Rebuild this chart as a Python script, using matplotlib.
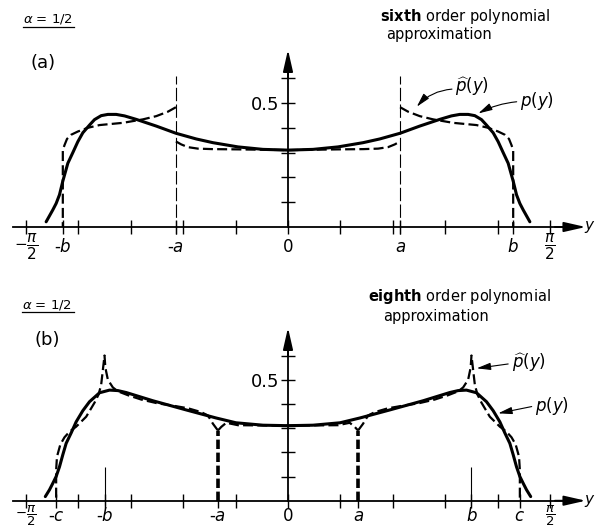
import matplotlib.pyplot as plt
import numpy as np
from matplotlib.lines import Line2D

# ---- panel (a): sixth order polynomial approximation (right half, curves symmetric) ----
a6, b6 = 0.672, 1.35

p6_x = [0.0, 0.15, 0.30, 0.45, 0.55, 0.672, 0.79, 0.91, 0.98, 1.03, 1.08, 1.12, 1.16,
        1.19, 1.23, 1.26, 1.29, 1.32, 1.35, 1.37, 1.39, 1.41, 1.43, 1.45]
p6_y = [0.31, 0.313, 0.323, 0.34, 0.355, 0.378, 0.407, 0.434, 0.448, 0.454, 0.454, 0.449, 0.433,
        0.411, 0.38, 0.344, 0.30, 0.257, 0.185, 0.13, 0.095, 0.069, 0.045, 0.021]

# p-hat, inside |y| < a and between a and b
ph6_in_x = [0.0, 0.30, 0.45, 0.54, 0.60, 0.64, 0.672]
ph6_in_y = [0.31, 0.313, 0.314, 0.316, 0.322, 0.333, 0.345]
ph6_out_x = [0.672, 0.72, 0.79, 0.87, 0.99, 1.13, 1.20, 1.26, 1.30, 1.325, 1.34, 1.35, 1.35]
ph6_out_y = [0.483, 0.465, 0.447, 0.434, 0.42, 0.411, 0.40, 0.385, 0.372, 0.355, 0.33, 0.31, 0.0]

# ---- panel (b): eighth order polynomial approximation ----
a8, b8, c8 = 0.42, 1.10, 1.39

p8_x = [0.0, 0.15, 0.312, 0.432, 0.61, 0.81, 0.97, 1.02, 1.07, 1.13, 1.19, 1.23, 1.27,
        1.30, 1.33, 1.35, 1.37, 1.39, 1.41, 1.43, 1.455]
p8_y = [0.31, 0.312, 0.322, 0.342, 0.375, 0.413, 0.447, 0.455, 0.457, 0.446, 0.409, 0.372, 0.326,
        0.28, 0.237, 0.19, 0.14, 0.10, 0.072, 0.045, 0.017]

ph8_in_x = [0.0, 0.30, 0.37, 0.40, 0.42]
ph8_in_y = [0.31, 0.312, 0.322, 0.305, 0.29]
ph8_out_x = [0.42, 0.45, 0.48, 0.52, 0.60, 0.70, 0.78, 0.88, 0.96, 1.02, 1.05, 1.08, 1.095,
             1.10, 1.11, 1.12, 1.135, 1.16, 1.21, 1.27, 1.31, 1.34, 1.365, 1.385, 1.39, 1.39]
ph8_out_y = [0.29, 0.318, 0.352, 0.366, 0.382, 0.394, 0.402, 0.418, 0.436, 0.452, 0.468, 0.50, 0.55,
             0.60, 0.54, 0.48, 0.44, 0.405, 0.347, 0.306, 0.285, 0.262, 0.232, 0.182, 0.127, 0.0]

minor_ticks = np.pi / 10 * np.array([-4, -3, -2, -1, 1, 2, 3, 4])
y_minor = [0.1, 0.2, 0.3, 0.4, 0.6]

W, H = 595, 531
XSCALE, X0 = 166.8, 288

plt.rcParams['mathtext.fontset'] = 'dejavusans'
fig = plt.figure(figsize=(W / 100, H / 100), dpi=100)


def full(x, y):
  # mirror a right half that starts at y = 0 into the full symmetric curve
  x = np.asarray(x); y = np.asarray(y)
  return np.concatenate([-x[::-1], x[1:]]), np.concatenate([y[::-1], y[1:]])


def make_axes(top, bottom, axis_px, yscale, xpad):
  ax = fig.add_axes([0, 1 - bottom / H, 1, (bottom - top) / H])
  ax.set_xlim(-X0 / XSCALE, (W - X0) / XSCALE)
  ax.set_ylim(-(bottom - axis_px) / yscale, (axis_px - top) / yscale)
  ax.patch.set_alpha(0)
  for s in ['top', 'right']:
    ax.spines[s].set_visible(False)
  ax.spines['left'].set_position(('data', 0))
  ax.spines['bottom'].set_position(('data', 0))
  ax.spines['bottom'].set_bounds(-1.65, 1.70)
  ax.spines['left'].set_bounds(0, 0.64)
  ax.spines['left'].set_linewidth(1.3)
  ax.spines['bottom'].set_linewidth(1.3)
  ax.set_yticks([0.5], ['0.5'])
  ax.set_yticks(y_minor, minor=True)
  ax.set_xticks(minor_ticks, minor=True)
  ax.tick_params(which='both', direction='inout', length=10, width=1.0, labelsize=12)
  ax.tick_params(axis='y', pad=1, labelsize=13)
  ax.tick_params(axis='x', pad=xpad)
  arr = dict(arrowstyle='-|>,head_length=1.1,head_width=0.25', lw=1.3, color='k',
             shrinkA=0, shrinkB=0, mutation_scale=12)
  ax.annotate('', xy=(1.785, 0), xytext=(1.60, 0), arrowprops=arr)
  ax.annotate('', xy=(0, 0.715), xytext=(0, 0.60), arrowprops=arr)
  ax.text(1.776, 0, '$y$', fontsize=11, ha='left', va='center')
  return ax


def set_xlabels(ax, pos, labels, frac_size):
  ax.set_xticks(pos, labels)
  for lab in ax.get_xticklabels():
    lab.set_va('center')
    if 'frac' in lab.get_text():
      lab.set_fontsize(frac_size)


def pointer(ax, label, tip, tail, text_xy, rad):
  ax.annotate('', xy=tip, xytext=tail,
              arrowprops=dict(arrowstyle='-|>,head_length=0.7,head_width=0.18', lw=0.8,
                              color='k', shrinkA=0, shrinkB=0, mutation_scale=12,
                              connectionstyle=f'arc3,rad={rad}'))
  ax.text(text_xy[0], text_xy[1], label, fontsize=12, ha='left', va='center')


solid = dict(color='k', lw=2.2, solid_capstyle='round')
dash = dict(color='k', lw=1.6, dashes=(4.5, 1.9))
half_pi = r'$\dfrac{\pi}{2}$'
neg_half_pi = r'$-\dfrac{\pi}{2}\;\;\;$'

# ---------------- panel (a) ----------------
ax = make_axes(0, 265, 227, 248, 9.5)
set_xlabels(ax, [-np.pi / 2, -b6, -a6, 0, a6, b6, np.pi / 2],
            [neg_half_pi, '-$b$', '-$a$', '0', '$a$', '$b$', half_pi], 11)
ax.vlines([-a6, a6], -0.03, 0.61, color='k', lw=0.8, linestyles=(0, (12, 3)))
ax.plot(*full(p6_x, p6_y), **solid)
ax.plot(*full(ph6_in_x, ph6_in_y), **dash)
ax.plot(ph6_out_x, ph6_out_y, **dash)
ax.plot(-np.asarray(ph6_out_x), ph6_out_y, **dash)
pointer(ax, r'$\widehat{p}(y)$', (0.772, 0.485), (0.983, 0.556), (1.0, 0.565), 0.2)
pointer(ax, r'$p(y)$', (1.141, 0.458), (1.371, 0.505), (1.39, 0.51), 0.1)

fig.text(23 / W, 1 - 19 / H, r'$\alpha$ = 1/2', fontsize=9.5, ha='left', va='center')
fig.add_artist(Line2D([23 / W, 74 / W], [1 - 27 / H] * 2, lw=0.9, color='k'))
fig.text(43 / W, 1 - 63 / H, '(a)', fontsize=13, ha='center', va='center')
fig.text(380 / W, 1 - 17 / H, r'$\mathbf{sixth}$ order polynomial', fontsize=10.5, ha='left', va='center')
fig.text(386 / W, 1 - 35 / H, 'approximation', fontsize=10.5, ha='left', va='center')

# ---------------- panel (b) ----------------
ax = make_axes(265, 531, 500.7, 242, 6.0)
set_xlabels(ax, [-np.pi / 2, -c8, -b8, -a8, 0, a8, b8, c8, np.pi / 2],
            [neg_half_pi, '-$c$', '-$b$', '-$a$', '0', '$a$', '$b$', '$c$', half_pi], 9.5)
ax.vlines([-b8, b8], -0.02, 0.14, color='k', lw=0.8)
ax.vlines([-a8, a8], 0, 0.29, color='k', lw=2.6, linestyles=(0, (2.6, 1.0)))
ax.plot(*full(p8_x, p8_y), **solid)
ax.plot(*full(ph8_in_x, ph8_in_y), **dash)
ax.plot(ph8_out_x, ph8_out_y, **dash)
ax.plot(-np.asarray(ph8_out_x), ph8_out_y, **dash)
pointer(ax, r'$\widehat{p}(y)$', (1.131, 0.547), (1.32, 0.565), (1.34, 0.57), 0.0)
pointer(ax, r'$p(y)$', (1.26, 0.361), (1.461, 0.389), (1.48, 0.39), 0.0)

fig.text(22 / W, 1 - 305 / H, r'$\alpha$ = 1/2', fontsize=9.5, ha='left', va='center')
fig.add_artist(Line2D([22 / W, 74 / W], [1 - 312 / H] * 2, lw=0.9, color='k'))
fig.text(47 / W, 1 - 340 / H, '(b)', fontsize=13, ha='center', va='center')
fig.text(368 / W, 1 - 297 / H, r'$\mathbf{eighth}$ order polynomial', fontsize=10.5, ha='left', va='center')
fig.text(383 / W, 1 - 317 / H, 'approximation', fontsize=10.5, ha='left', va='center')

fig.savefig('out.png', dpi=100)
